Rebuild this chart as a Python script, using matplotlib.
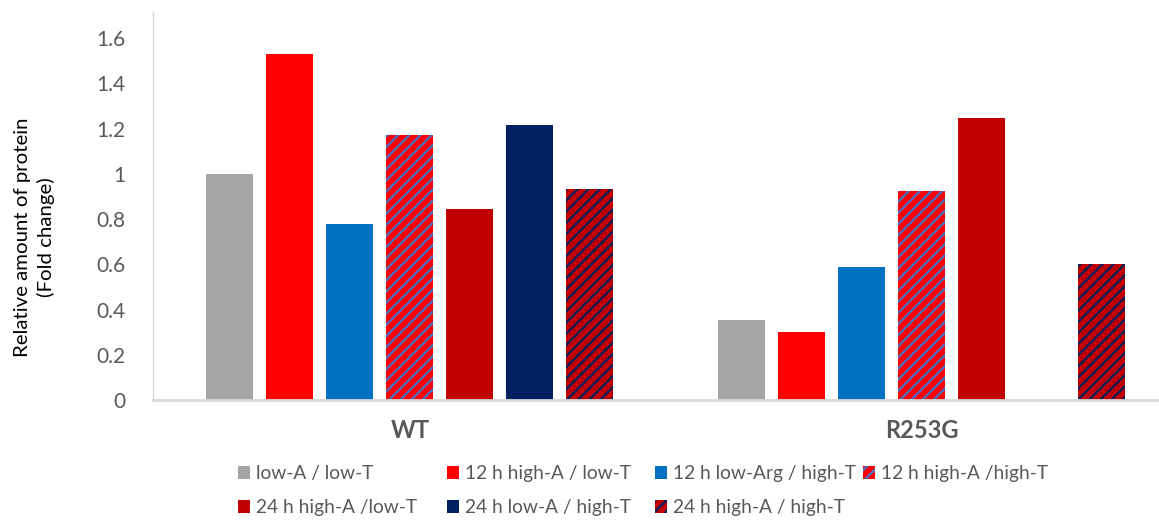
import matplotlib
matplotlib.use("Agg")
import matplotlib.pyplot as plt
import numpy as np

# protein levels relative to WT low-A / low-T
groups = ["WT", "R253G"]
conditions = ["low-A / low-T", "12 h high-A / low-T", "12 h low-Arg / high-T",
              "12 h high-A /high-T", "24 h high-A /low-T", "24 h low-A / high-T",
              "24 h high-A / high-T"]
wt_values = [1.00, 1.53, 0.78, 1.17, 0.845, 1.215, 0.935]
r253g_values = [0.355, 0.30, 0.59, 0.925, 1.245, 0.0, 0.60]

face_colors = ["#A5A5A5", "#FF0000", "#0070C0", "#FF0000", "#C00000", "#002060", "#C00000"]
hatch_colors = [None, None, None, "#4472C4", None, None, "#002060"]

plt.rcParams["font.family"] = ["Lato", "DejaVu Sans"]
plt.rcParams["hatch.linewidth"] = 1.6

fig = plt.figure(figsize=(11.59, 5.27), dpi=100)
ax = fig.add_axes([0.132, 0.241, 0.868, 0.736])

x = np.arange(len(groups))
width = 0.0919
step = 0.1173
values = np.array([wt_values, r253g_values])

for i, cond in enumerate(conditions):
    offset = (i - 3) * step
    if hatch_colors[i]:
        ax.bar(x + offset, values[:, i], width, color=face_colors[i],
               edgecolor=hatch_colors[i], hatch="///", linewidth=0, label=cond)
    else:
        ax.bar(x + offset, values[:, i], width, color=face_colors[i],
               linewidth=0, label=cond)

ax.set_xlim(-0.502, 1.464)
ax.set_ylim(0, 1.715)
ax.set_yticks([0, 0.2, 0.4, 0.6, 0.8, 1.0, 1.2, 1.4, 1.6])
ax.set_yticklabels(["0", "0.2", "0.4", "0.6", "0.8", "1", "1.2", "1.4", "1.6"])
ax.set_xticks(x)
ax.set_xticklabels(groups, fontsize=17, fontweight="bold", color="#595959")
ax.tick_params(axis="y", length=0, pad=20, labelsize=15, labelcolor="#595959")
ax.tick_params(axis="x", length=0, pad=14)

for side in ["top", "right"]:
    ax.spines[side].set_visible(False)
ax.spines["left"].set_color("#D9D9D9")
ax.spines["left"].set_linewidth(1.0)
ax.spines["bottom"].set_color("#D9D9D9")
ax.spines["bottom"].set_linewidth(2.0)

fig.text(0.030, 0.55, "Relative amount of protein\n(Fold change)", rotation=90,
         ha="center", va="center", fontsize=14.7, color="black", linespacing=1.4)

# legend laid out as two rows, one legend per column
handles, labels = ax.get_legend_handles_labels()
col_x = [0.2054, 0.3857, 0.5651, 0.7446]
for c in range(4):
    idx = [c] if c == 3 else [c, c + 4]
    leg = fig.legend([handles[k] for k in idx], [labels[k] for k in idx],
                     loc="upper left", bbox_to_anchor=(col_x[c], 0.1176),
                     frameon=False, fontsize=13.8, handlelength=0.63,
                     handleheight=0.63, handletextpad=0.3, labelspacing=0.9,
                     borderaxespad=0, borderpad=0)
    for t in leg.get_texts():
        t.set_color("#595959")

fig.savefig("out.png", dpi=100)
